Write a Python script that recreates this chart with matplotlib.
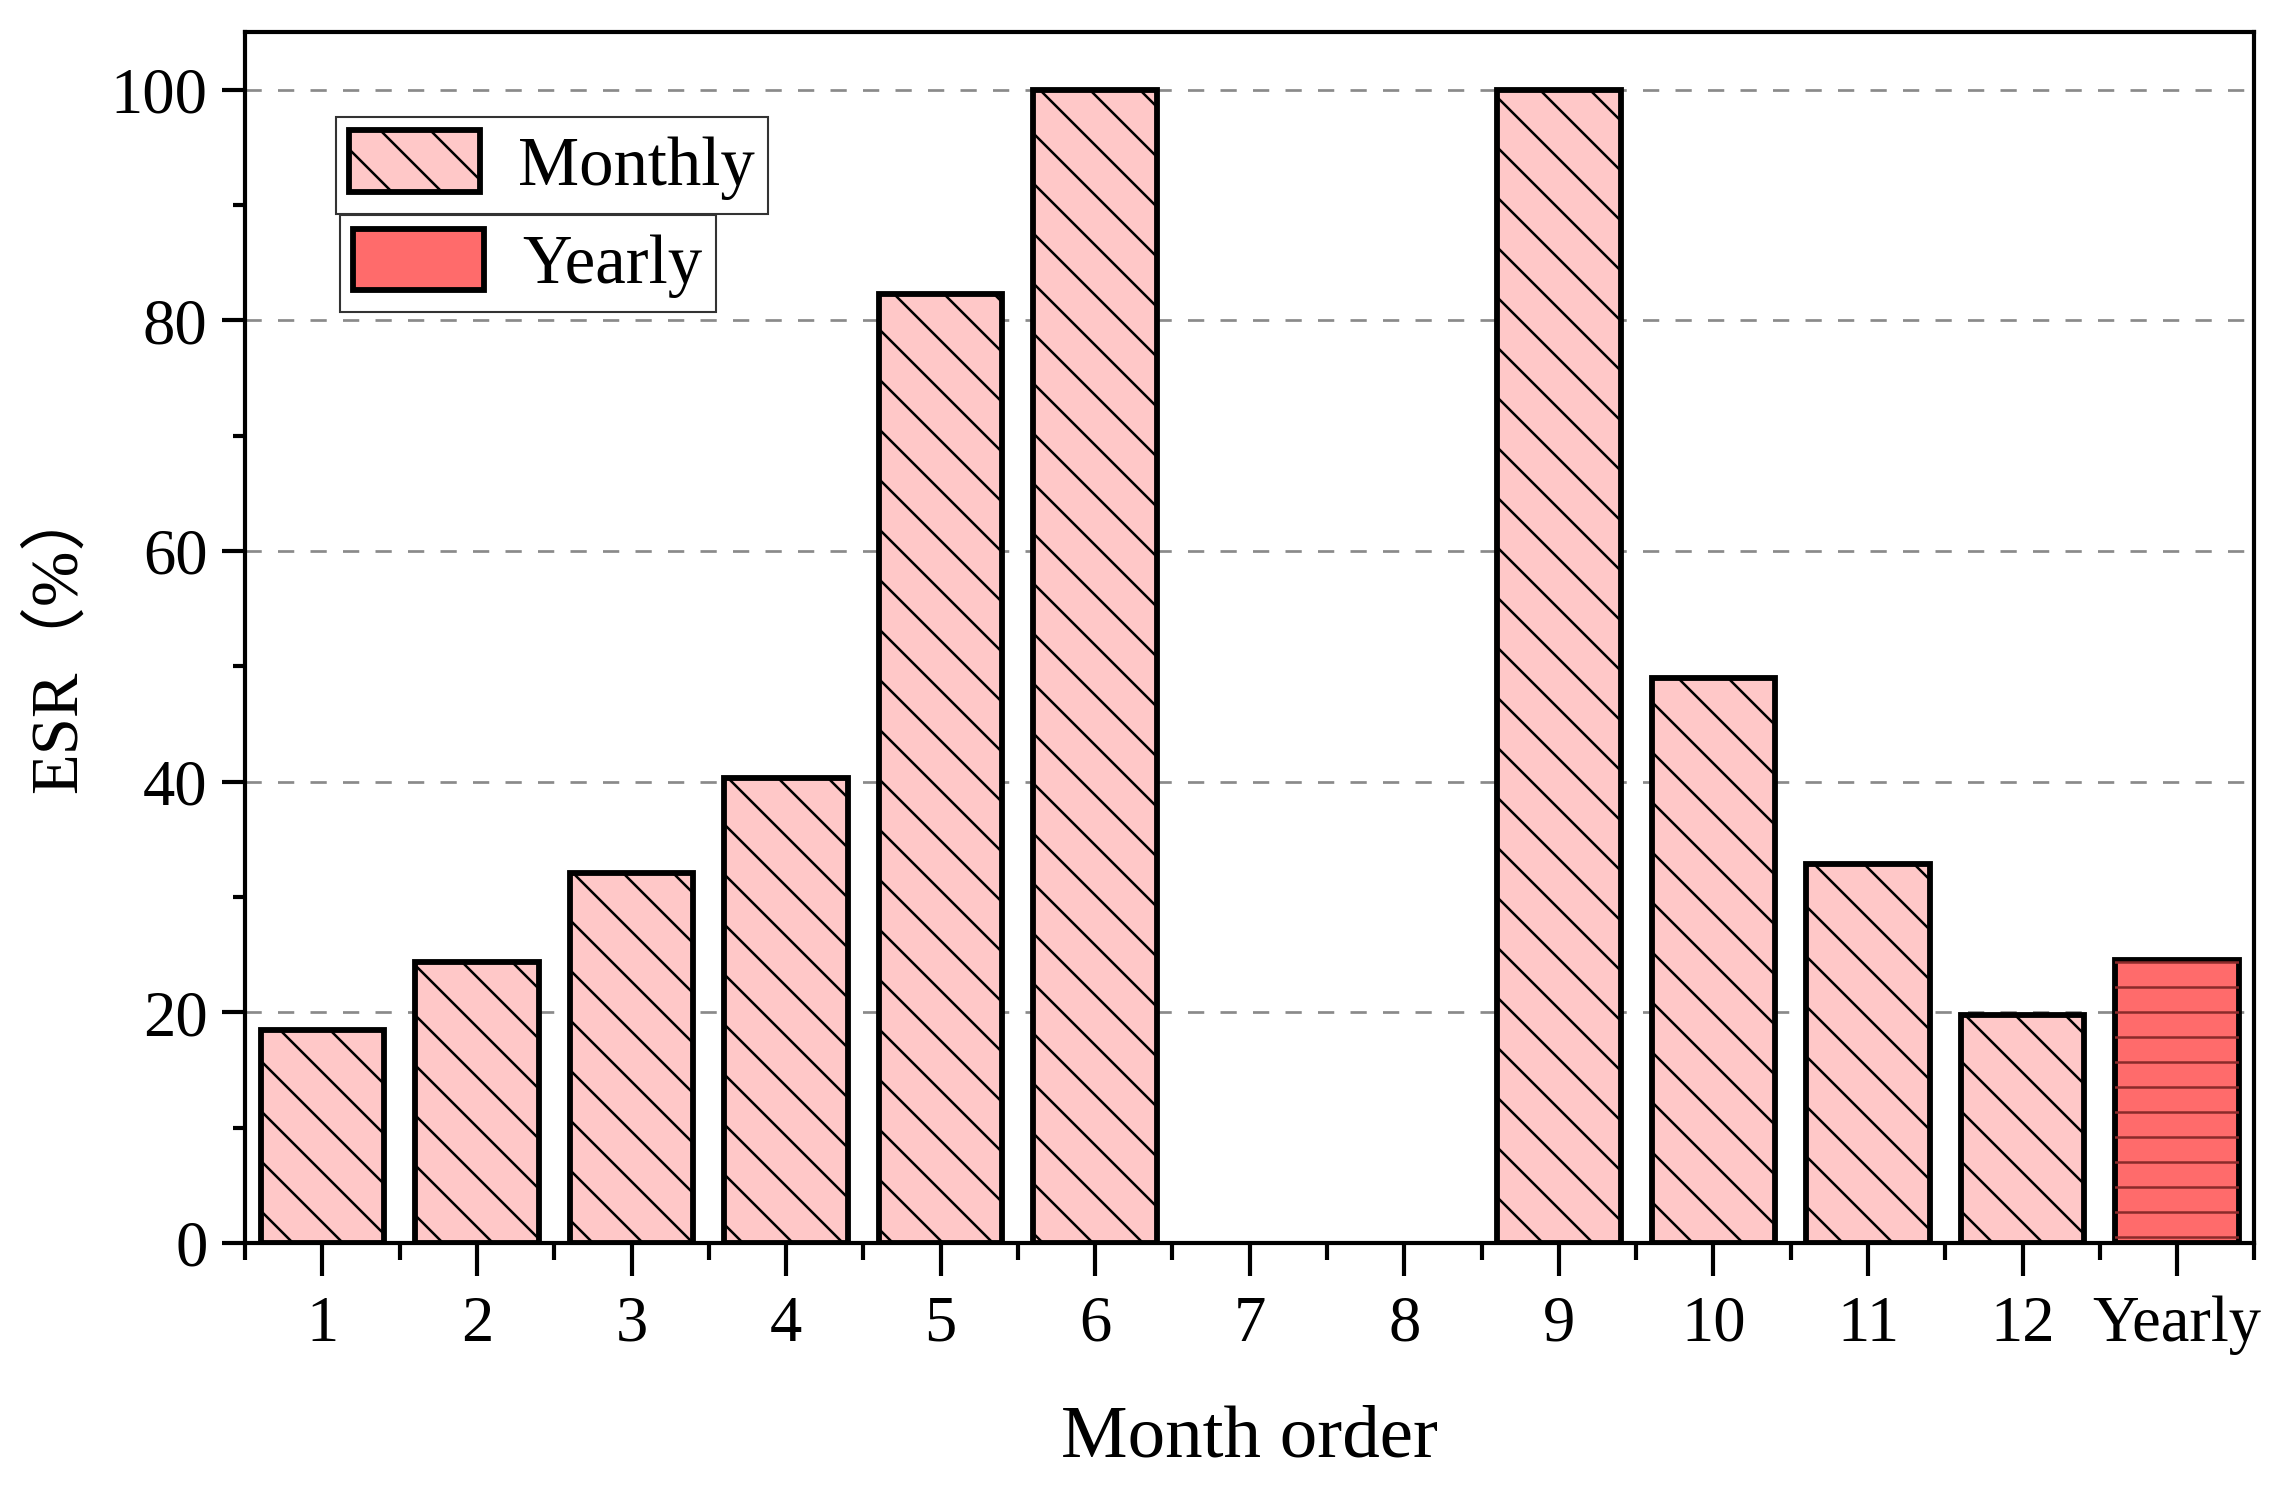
import numpy as np
import matplotlib
matplotlib.use("Agg")
import matplotlib.pyplot as plt
from matplotlib.ticker import MultipleLocator

# data
months = ['1', '2', '3', '4', '5', '6', '7', '8', '9', '10', '11', '12']
monthly_esr = [18.5, 24.4, 32.1, 40.3, 82.3, 100.0, 0.0, 0.0, 100.0, 49.0, 32.9, 19.8]
yearly_label = 'Yearly'
yearly_esr = 24.5

plt.rcParams['font.family'] = ['Liberation Serif', 'Noto Sans CJK SC']
plt.rcParams['hatch.linewidth'] = 1.2
plt.rcParams['axes.linewidth'] = 2.0

fig = plt.figure(figsize=(2291 / 150, 1494 / 150), dpi=150)
ax = fig.add_axes([0.107, 0.168, 0.984 - 0.107, 0.9786 - 0.168])

x_month = np.arange(1, len(months) + 1)
x_year = len(months) + 1

# grid behind the bars
ax.set_axisbelow(True)
ax.yaxis.grid(True, which='major', linestyle=(0, (6, 6)), color='#8a8a8a', linewidth=1.3)

monthly_bars = ax.bar(x_month, monthly_esr, width=0.8, color='#ffc8c8',
                      edgecolor='black', linewidth=2.8, hatch='\\', zorder=2)
# zero-valued months show no outline in the original
for b, v in zip(monthly_bars, monthly_esr):
    if v == 0:
        b.set_visible(False)

yearly_bar = ax.bar([x_year], [yearly_esr], width=0.8, color='#ff6b6b',
                    edgecolor='black', linewidth=2.8, zorder=2)
# horizontal hatch in dark red on top of the yearly bar
ax.bar([x_year], [yearly_esr], width=0.8, fill=False, edgecolor='#8b2a2a',
       linewidth=0, hatch='-', zorder=3)

ax.set_xlim(0.5, 13.5)
ax.set_ylim(0, 105)
ax.set_xticks(list(x_month) + [x_year])
ax.set_xticklabels(months + [yearly_label])
ax.set_xticks(np.arange(0.5, 14, 1), minor=True)
ax.yaxis.set_major_locator(MultipleLocator(20))
ax.yaxis.set_minor_locator(MultipleLocator(10))

ax.tick_params(axis='x', which='major', length=16, width=2, pad=9, labelsize=31)
ax.tick_params(axis='x', which='minor', length=8, width=2)
ax.tick_params(axis='y', which='major', length=11, width=2, pad=7, labelsize=31)
ax.tick_params(axis='y', which='minor', length=6, width=2)

ax.set_xlabel('Month order', fontsize=36, labelpad=24)
ax.set_ylabel('ESR（%）', fontsize=32, labelpad=10)

# two separate legend boxes, as in the original
leg_kw = dict(loc='upper left', fontsize=33, frameon=True, fancybox=False,
              framealpha=1, edgecolor='#333333', borderpad=0.2,
              handlelength=1.9, handleheight=1.0, handletextpad=0.55,
              borderaxespad=0)
leg1 = ax.legend([monthly_bars[0]], ['Monthly'], bbox_to_anchor=(0.045, 0.93), **leg_kw)
leg1.get_frame().set_linewidth(1.0)
ax.add_artist(leg1)
leg2 = ax.legend([yearly_bar[0]], ['Yearly'], bbox_to_anchor=(0.047, 0.849), **leg_kw)
leg2.get_frame().set_linewidth(1.0)

fig.savefig('out.png', dpi=150)
